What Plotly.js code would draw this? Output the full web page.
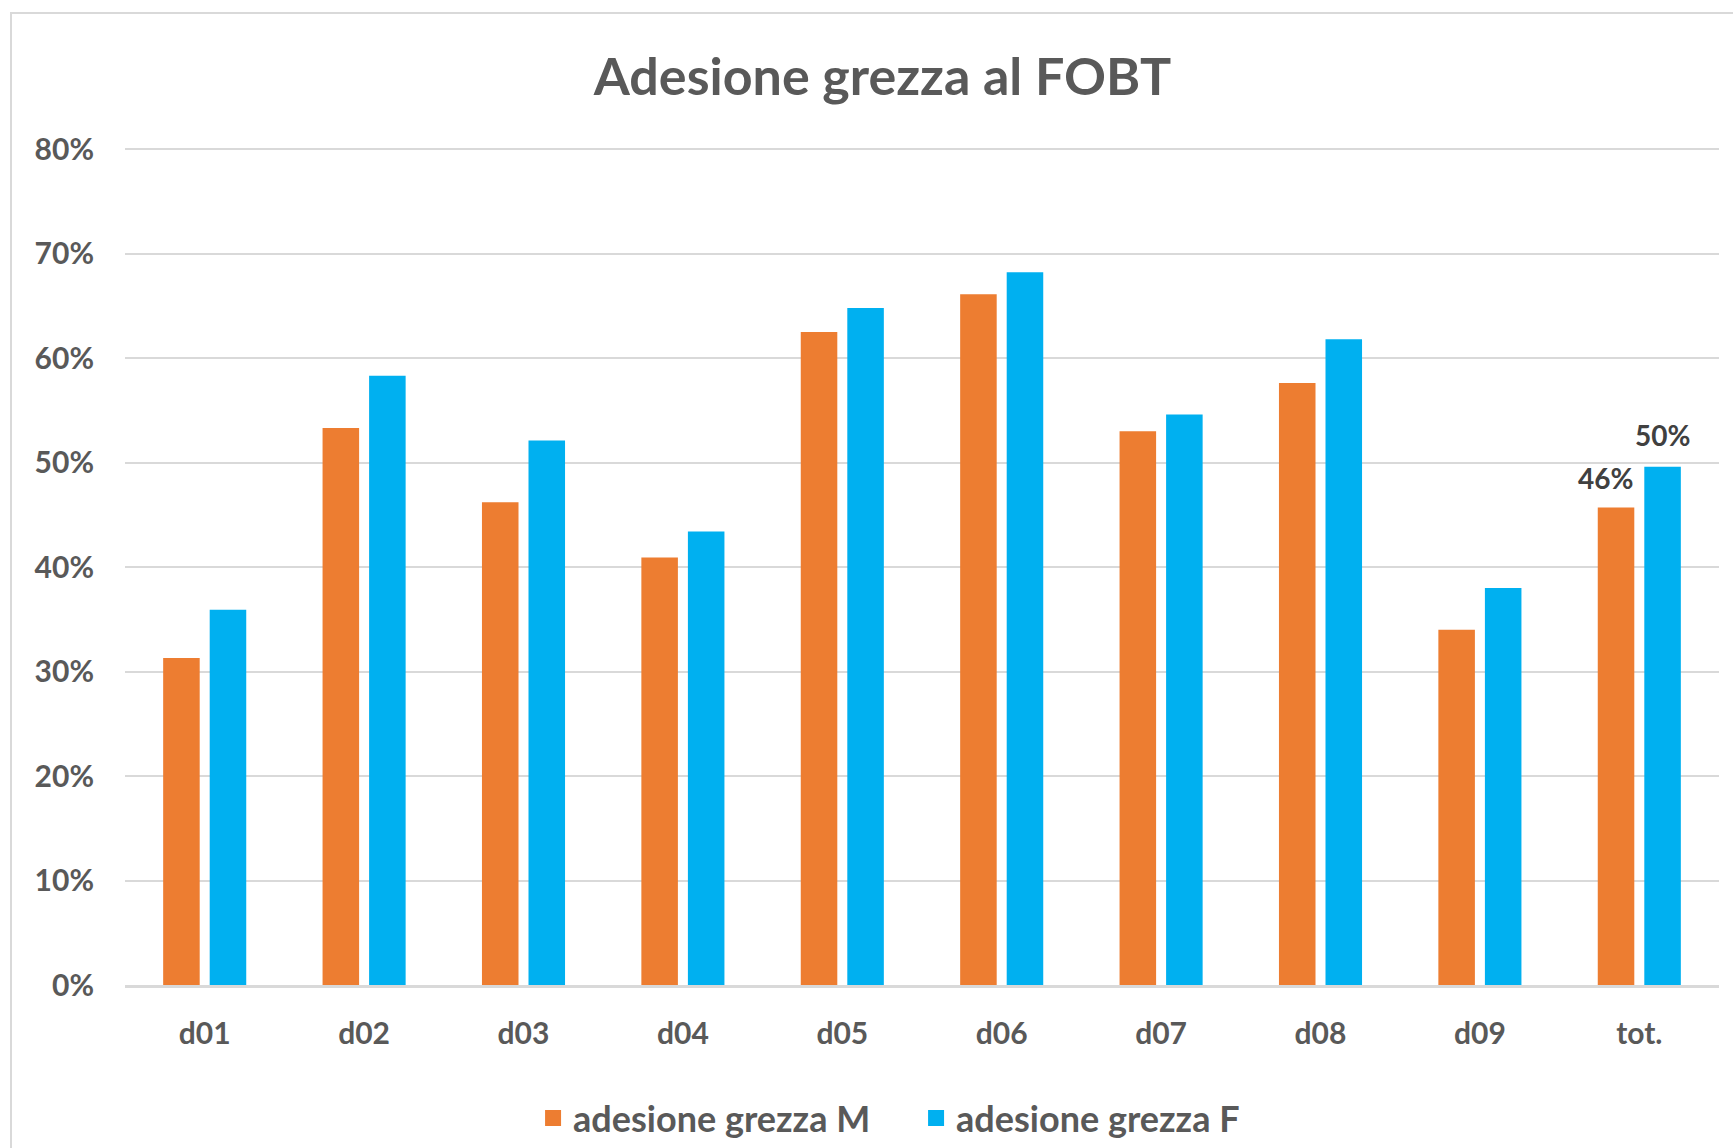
<!DOCTYPE html>
<html><head><meta charset="utf-8">
<script src="https://cdn.plot.ly/plotly-3.0.1.min.js"></script>
<style>
html,body{margin:0;padding:0;background:#fff;}
#wrap{position:relative;width:1733px;height:1148px;overflow:hidden;}
#chart{position:absolute;left:0;top:0;width:1733px;height:1148px;}
#frame{position:absolute;left:10px;top:12px;width:1800px;height:1200px;border-left:2px solid #d9d9d9;border-top:2px solid #d9d9d9;box-sizing:border-box;pointer-events:none;}
</style></head>
<body><div id="wrap"><div id="chart"></div><div id="frame"></div></div>
<script>
const categories = ['d01','d02','d03','d04','d05','d06','d07','d08','d09','tot.'];
const seriesM = [0.313,0.533,0.462,0.409,0.625,0.661,0.530,0.576,0.340,0.457];
const seriesF = [0.359,0.583,0.521,0.434,0.648,0.682,0.546,0.618,0.380,0.496];
const seriesNames = ['adesione grezza M','adesione grezza F'];
const seriesColors = ['#ED7D31','#00B0F0'];
const totLabels = ['46%','50%'];
const yTickVals = [0,0.1,0.2,0.3,0.4,0.5,0.6,0.7,0.8];
const yTickText = ['0%','10%','20%','30%','40%','50%','60%','70%','80%'];
const chartTitle = 'Adesione grezza al FOBT';

const FONT = 'Lato, "Open Sans", sans-serif';
const last = categories.length - 1;

const traces = [
  {type:'bar', x:categories, y:seriesM, name:seriesNames[0], marker:{color:seriesColors[0]}, showlegend:false, hoverinfo:'x+y'},
  {type:'bar', x:categories, y:seriesF, name:seriesNames[1], marker:{color:seriesColors[1]}, showlegend:false, hoverinfo:'x+y'},
  {type:'scatter', mode:'markers', x:[null], y:[null], name:seriesNames[0], marker:{symbol:'square', size:20, color:seriesColors[0]}},
  {type:'scatter', mode:'markers', x:[null], y:[null], name:seriesNames[1], marker:{symbol:'square', size:20, color:seriesColors[1]}}
];

const layout = {
  width:1733, height:1148,
  margin:{l:125, r:14, t:148, b:163, autoexpand:false},
  paper_bgcolor:'#ffffff', plot_bgcolor:'#ffffff',
  font:{family:FONT, color:'#595959', weight:700},
  title:{text:chartTitle, font:{family:FONT, size:52, color:'#595959', weight:700},
         x:0.5092, xref:'container', xanchor:'center', y:0.933, yref:'container', yanchor:'middle'},
  barmode:'group', bargap:0.416, bargroupgap:0.215,
  xaxis:{type:'category', showgrid:false, showline:true, linecolor:'#d9d9d9', linewidth:3,
         ticks:'', ticklabelstandoff:20, tickfont:{family:FONT, size:30, color:'#595959', weight:700}},
  yaxis:{range:[0,0.801], tickvals:yTickVals, ticktext:yTickText, showgrid:true, gridcolor:'#d9d9d9', gridwidth:2,
         zeroline:false, showline:false, ticks:'', ticklabelstandoff:30,
         tickfont:{family:FONT, size:30, color:'#595959', weight:700}},
  legend:{orientation:'h', x:0.256, xanchor:'left', y:-0.159, yanchor:'middle',
          entrywidth:338, entrywidthmode:'pixels',
          font:{family:FONT, size:36, color:'#595959', weight:700}},
  annotations:[
    {x:categories[last], y:seriesM[last], xref:'x', yref:'y', text:totLabels[0], showarrow:false,
     xanchor:'right', yanchor:'middle', xshift:-4, yshift:29, font:{family:FONT, size:28, color:'#404040', weight:700}},
    {x:categories[last], y:seriesF[last], xref:'x', yref:'y', text:totLabels[1], showarrow:false,
     xanchor:'center', yanchor:'middle', xshift:23, yshift:32, font:{family:FONT, size:28, color:'#404040', weight:700}}
  ]
};

Plotly.newPlot('chart', traces, layout, {displayModeBar:false, staticPlot:true});
</script>
</body></html>
